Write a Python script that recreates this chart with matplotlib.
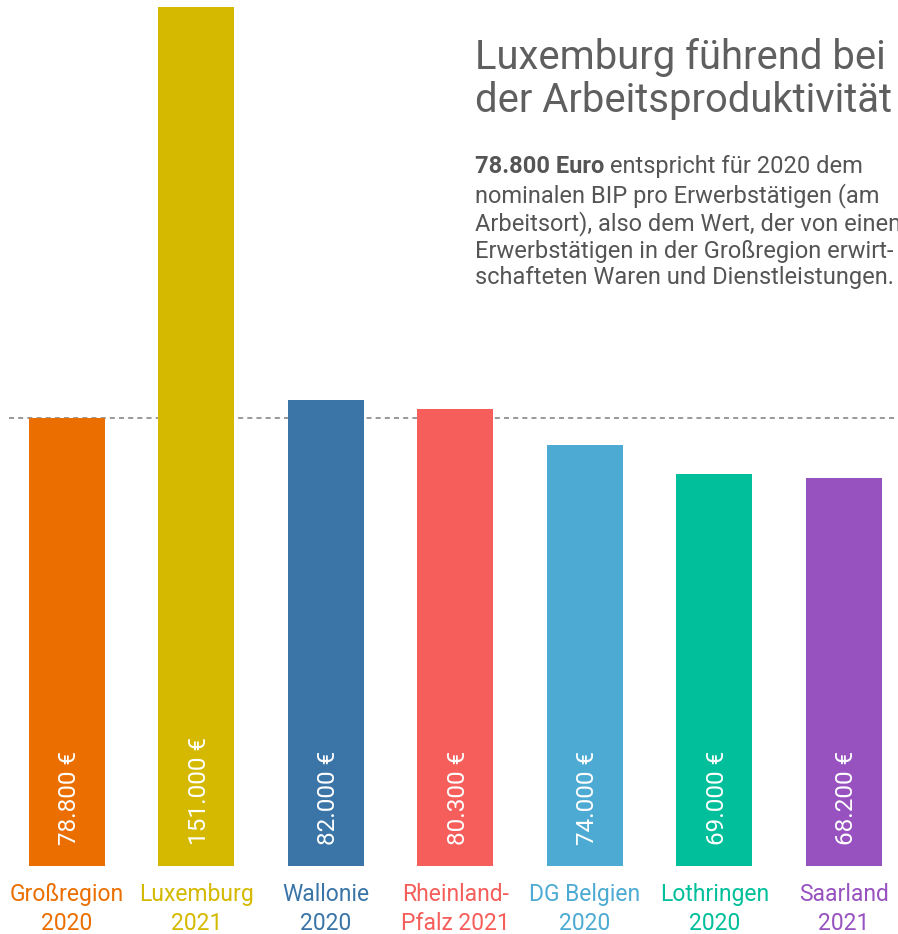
import matplotlib
matplotlib.use("Agg")
import matplotlib.pyplot as plt

# data
regions = ["Großregion\n2020", "Luxemburg\n2021", "Wallonie\n2020", "Rheinland-\nPfalz 2021",
           "DG Belgien\n2020", "Lothringen\n2020", "Saarland\n2021"]
values = [78800, 151000, 82000, 80300, 74000, 69000, 68200]
value_labels = ["78.800 €", "151.000 €", "82.000 €", "80.300 €", "74.000 €", "69.000 €", "68.200 €"]
colors = ["#EB6E00", "#D4B900", "#3B75A8", "#F55E5B", "#4DABD3", "#00BF9A", "#9752C0"]
reference = 78800

title = "Luxemburg führend bei\nder Arbeitsproduktivität"
note_bold = "78.800 Euro"
note_first = " entspricht für 2020 dem"
note_rest = ("nominalen BIP pro Erwerbstätigen (am\n"
             "Arbeitsort), also dem Wert, der von einem\n"
             "Erwerbstätigen in der Großregion erwirt-\n"
             "schafteten Waren und Dienstleistungen.")

plt.rcParams['font.family'] = ['Roboto', 'DejaVu Sans']

fig = plt.figure(figsize=(8.98, 9.34), dpi=100)
ax = fig.add_axes([0, 0, 1, 1])
ax.set_axis_off()

xs = list(range(len(values)))
ax.bar(xs, values, width=0.587, color=colors, zorder=2)
ax.set_xlim(-0.517, 6.417)
ax.set_ylim(-11960, 152300)

# dashed reference line
ax.plot([-0.45, 6.417], [reference, reference], color="#888888", lw=1.2,
        ls=(0, (3, 2.5)), zorder=1)

for x, lab in zip(xs, value_labels):
    ax.text(x + 0.02, 3700, lab, rotation=90, ha="center", va="bottom", color="white",
            fontsize=17.5)

for x, lab, c in zip(xs, regions, colors):
    ax.text(x, -3000, lab, ha="center", va="top", color=c, fontsize=16.5,
            linespacing=1.35)

fig.text(475 / 898, 1 - 38 / 934, title, ha="left", va="top", color="#5f5f5f",
         fontsize=28.8, linespacing=1.14)

b = fig.text(475 / 898, 1 - 155 / 934, note_bold, ha="left", va="top", color="#555555",
             fontsize=17, fontweight="bold")
ax.annotate(note_first, xy=(1, 0), xycoords=b, ha="left", va="bottom", color="#555555",
            fontsize=17)
fig.text(475 / 898, 1 - 183 / 934, note_rest, ha="left", va="top", color="#555555",
         fontsize=17, linespacing=1.18)

fig.savefig("out.png", dpi=100)
